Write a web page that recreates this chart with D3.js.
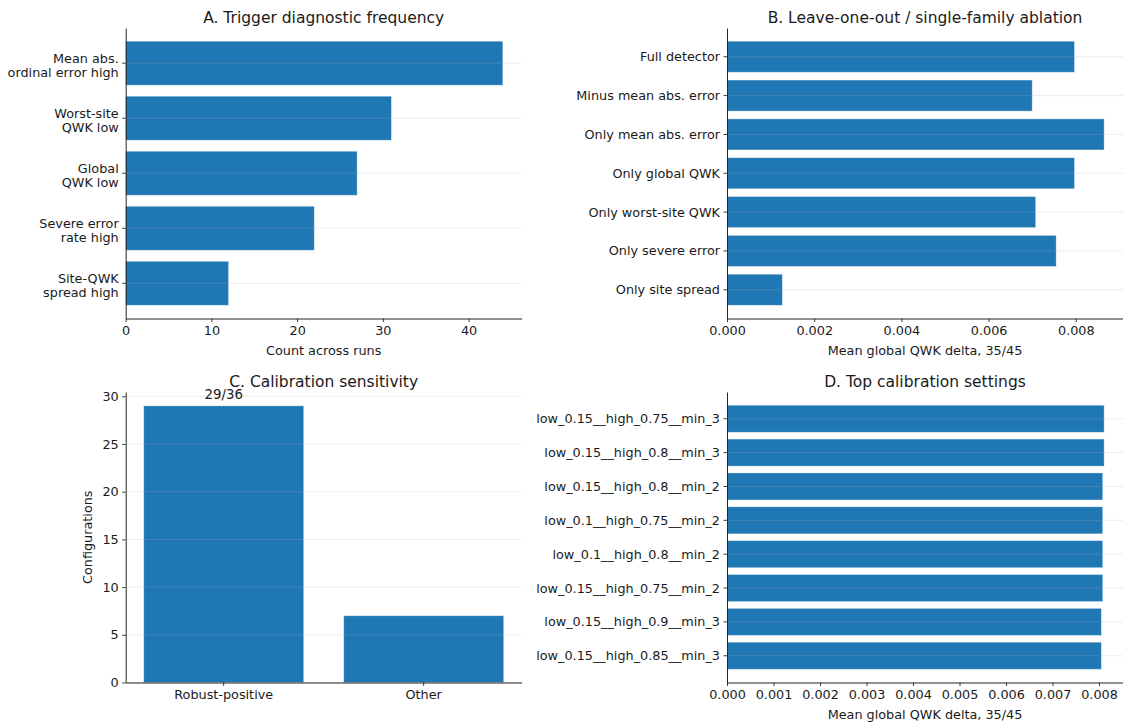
<!DOCTYPE html>
<html>
<head>
<meta charset="utf-8">
<script src="https://cdn.jsdelivr.net/npm/d3@7"></script>
<style>
  html, body { margin: 0; padding: 0; background: #fff; }
  svg { display: block; font-family: "DejaVu Sans", sans-serif; }
  .tick text { fill: #1a1a1a; }
</style>
</head>
<body>
<svg id="chart" width="1123" height="723"></svg>
<script>
// Panel A: how often each trigger diagnostic fired
const triggerLabels = [
  "Mean abs.\nordinal error high",
  "Worst-site\nQWK low",
  "Global\nQWK low",
  "Severe error\nrate high",
  "Site-QWK\nspread high"
];
const triggerCounts = [44, 31, 27, 22, 12];
const triggerTicks = [0, 10, 20, 30, 40];

// Panel B: leave-one-out / single-family ablation
const ablationLabels = [
  "Full detector",
  "Minus mean abs. error",
  "Only mean abs. error",
  "Only global QWK",
  "Only worst-site QWK",
  "Only severe error",
  "Only site spread"
];
const ablationDelta = [0.00797, 0.00700, 0.00865, 0.00797, 0.00708, 0.00755, 0.00127];
const ablationTicks = [0, 0.002, 0.004, 0.006, 0.008];

// Panel C: calibration sensitivity
const calibGroups = ["Robust-positive", "Other"];
const calibCounts = [29, 7];
const calibTotal = 36;
const calibTicks = [0, 5, 10, 15, 20, 25, 30];

// Panel D: best calibration settings
const settingLabels = [
  "low_0.15__high_0.75__min_3",
  "low_0.15__high_0.8__min_3",
  "low_0.15__high_0.8__min_2",
  "low_0.1__high_0.75__min_2",
  "low_0.1__high_0.8__min_2",
  "low_0.15__high_0.75__min_2",
  "low_0.15__high_0.9__min_3",
  "low_0.15__high_0.85__min_3"
];
const settingDelta = [0.00811, 0.00811, 0.00808, 0.00808, 0.00808, 0.00808, 0.00805, 0.00805];
const settingTicks = [0, 0.001, 0.002, 0.003, 0.004, 0.005, 0.006, 0.007, 0.008];

const BAR = "#1f77b4";
const TEXT = "#1a1a1a";
const FONT = "'DejaVu Sans', sans-serif";
const TICK_FS = 12.8;
const svg = d3.select("#chart");

function styleAxis(g) {
  g.attr("font-family", FONT);
  g.selectAll(".domain").attr("stroke", "#262626").attr("stroke-width", 1);
  g.selectAll(".tick line").attr("stroke", "#262626").attr("stroke-width", 0.9);
  g.selectAll(".tick text").attr("font-size", TICK_FS).attr("fill", TEXT);
}

function title(box, text) {
  svg.append("text")
    .attr("x", (box.x0 + box.x1) / 2)
    .attr("y", box.y0 - 5.5)
    .attr("text-anchor", "middle")
    .attr("font-size", 15.5)
    .attr("fill", TEXT)
    .text(text);
}

// Horizontal bar panel with categories top-to-bottom
function hbar(box, labels, values, ticks, fmt, xlabel, ttl) {
  const n = labels.length;
  const x = d3.scaleLinear().domain([0, d3.max(values) * 1.05]).range([box.x0, box.x1]);
  const y = d3.scaleBand().domain(d3.range(n)).range([box.y0, box.y1])
    .paddingInner(0.2).paddingOuter(0.05 * (n - 0.2));

  const g = svg.append("g");
  g.selectAll("rect").data(values).enter().append("rect")
    .attr("x", x(0))
    .attr("y", (d, i) => y(i))
    .attr("width", d => x(d) - x(0))
    .attr("height", y.bandwidth())
    .attr("fill", BAR)
    .attr("stroke", "#ffffff").attr("stroke-opacity", 0.45).attr("stroke-width", 0.8);

  // horizontal grid at category centres, drawn over the bars
  g.selectAll("line.grid").data(values).enter().append("line")
    .attr("class", "grid")
    .attr("x1", box.x0).attr("x2", box.x1)
    .attr("y1", (d, i) => y(i) + y.bandwidth() / 2)
    .attr("y2", (d, i) => y(i) + y.bandwidth() / 2)
    .attr("stroke", "#b0b0b0").attr("stroke-opacity", 0.3).attr("stroke-width", 0.8);

  const xa = svg.append("g").attr("transform", `translate(0,${box.y1})`)
    .call(d3.axisBottom(x).tickValues(ticks).tickFormat(fmt).tickSize(3.5).tickSizeOuter(0).tickPadding(3.5));
  styleAxis(xa);
  xa.selectAll(".tick text").attr("dy", "0.71em");

  const ya = svg.append("g").attr("transform", `translate(${box.x0},0)`)
    .call(d3.axisLeft(y).tickFormat("").tickSize(3.5).tickSizeOuter(0));
  styleAxis(ya);
  ya.selectAll(".tick").each(function (d) {
    const lines = labels[d].split("\n");
    const t = d3.select(this).append("text")
      .attr("x", -7).attr("text-anchor", "end")
      .attr("font-size", TICK_FS).attr("fill", TEXT);
    if (lines.length === 1) {
      t.attr("y", 4.5).text(lines[0]);
    } else {
      lines.forEach((s, k) => t.append("tspan").attr("x", -7).attr("y", -0.5 + k * 14).text(s));
    }
  });

  svg.append("text")
    .attr("x", (box.x0 + box.x1) / 2).attr("y", box.y1 + 36)
    .attr("text-anchor", "middle").attr("font-size", TICK_FS).attr("fill", TEXT)
    .text(xlabel);
  title(box, ttl);
}

// Vertical bar panel
function vbar(box, groups, values, ticks, ylabel, ttl) {
  const n = groups.length;
  const x = d3.scaleBand().domain(d3.range(n)).range([box.x0, box.x1])
    .paddingInner(0.2).paddingOuter(0.05 * (n - 0.2));
  const y = d3.scaleLinear().domain([0, d3.max(values) * 1.05]).range([box.y1, box.y0]);

  const g = svg.append("g");
  g.selectAll("rect").data(values).enter().append("rect")
    .attr("x", (d, i) => x(i))
    .attr("y", d => y(d))
    .attr("width", x.bandwidth())
    .attr("height", d => y(0) - y(d))
    .attr("fill", BAR)
    .attr("stroke", "#ffffff").attr("stroke-opacity", 0.45).attr("stroke-width", 0.8);

  g.selectAll("line.grid").data(ticks).enter().append("line")
    .attr("class", "grid")
    .attr("x1", box.x0).attr("x2", box.x1)
    .attr("y1", d => y(d)).attr("y2", d => y(d))
    .attr("stroke", "#b0b0b0").attr("stroke-opacity", 0.3).attr("stroke-width", 0.8);

  // count label above the first bar
  svg.append("text")
    .attr("x", x(0) + x.bandwidth() / 2)
    .attr("y", y(values[0]) - 6.5)
    .attr("text-anchor", "middle").attr("font-size", 13.3).attr("fill", TEXT)
    .text(`${values[0]}/${calibTotal}`);

  const xa = svg.append("g").attr("transform", `translate(0,${box.y1})`)
    .call(d3.axisBottom(x).tickFormat(i => groups[i]).tickSize(3.5).tickSizeOuter(0).tickPadding(3.5));
  styleAxis(xa);
  xa.selectAll(".tick text").attr("dy", "0.71em");

  const ya = svg.append("g").attr("transform", `translate(${box.x0},0)`)
    .call(d3.axisLeft(y).tickValues(ticks).tickFormat(d3.format("d")).tickSize(3.5).tickSizeOuter(0).tickPadding(3.5));
  styleAxis(ya);

  svg.append("text")
    .attr("transform", `translate(${box.x0 - 34},${(box.y0 + box.y1) / 2}) rotate(-90)`)
    .attr("text-anchor", "middle").attr("font-size", TICK_FS).attr("fill", TEXT)
    .text(ylabel);
  title(box, ttl);
}

const fmt3 = d3.format(".3f");

hbar({ x0: 125.7, x1: 521.7, y0: 28, y1: 318.5 },
  triggerLabels, triggerCounts, triggerTicks, d3.format("d"),
  "Count across runs", "A. Trigger diagnostic frequency");

hbar({ x0: 727, x1: 1123, y0: 28, y1: 318.5 },
  ablationLabels, ablationDelta, ablationTicks, fmt3,
  "Mean global QWK delta, 35/45", "B. Leave-one-out / single-family ablation");

vbar({ x0: 125.7, x1: 521.7, y0: 392, y1: 682.5 },
  calibGroups, calibCounts, calibTicks,
  "Configurations", "C. Calibration sensitivity");

hbar({ x0: 727, x1: 1123, y0: 392, y1: 682.5 },
  settingLabels, settingDelta, settingTicks, fmt3,
  "Mean global QWK delta, 35/45", "D. Top calibration settings");
</script>
</body>
</html>
